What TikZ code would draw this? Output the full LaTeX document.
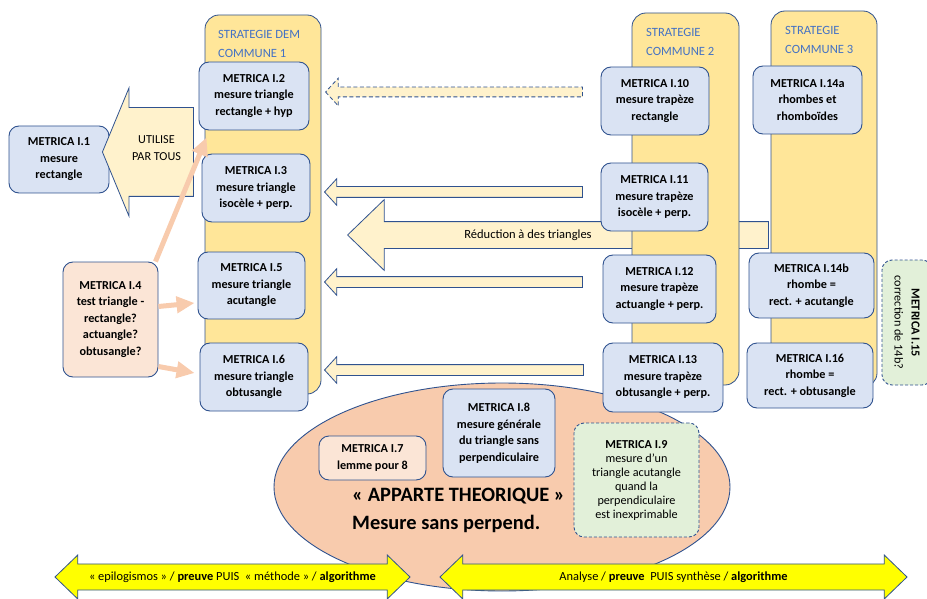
\documentclass[tikz,border=0pt]{standalone}
\usepackage{fontspec}
\setmainfont{Carlito}
\usetikzlibrary{shapes.arrows,shapes.geometric,arrows.meta,positioning}

\definecolor{edgeblue}{RGB}{47,82,143}
\definecolor{titleblue}{RGB}{68,114,196}
\definecolor{colgold}{RGB}{255,230,153}
\definecolor{boxblue}{RGB}{218,227,243}
\definecolor{boxpeach}{RGB}{251,229,214}
\definecolor{ovalpeach}{RGB}{248,203,173}
\definecolor{boxgreen}{RGB}{226,240,217}
\definecolor{arrowcream}{RGB}{255,242,204}
\definecolor{bandyellow}{RGB}{255,255,0}

\begin{document}
\begin{tikzpicture}[x=1pt, y=-1pt,
    strategie/.style={draw=edgeblue, fill=colgold, rounded corners=14pt, line width=0.8pt},
    coltitle/.style={anchor=north west, inner sep=0pt, align=left, text=titleblue, font=\fontsize{12.6}{19}\selectfont},
    metrica/.style={draw=edgeblue, fill=boxblue, rounded corners=10pt, line width=0.9pt, align=center, inner sep=1pt, font=\fontsize{12.2}{16.5}\selectfont\bfseries},
    testbox/.style={metrica, fill=boxpeach},
    openbox/.style={metrica, fill=boxgreen, dash pattern=on 3pt off 2pt, font=\fontsize{12.2}{14}\selectfont},
    wh/.style 2 args={minimum width=#1pt, minimum height=#2pt},
    % length, half shaft, head overhang
    arrowdims/.style n args={3}{minimum height=#1pt, inner ysep=#2pt, single arrow head extend=#3pt},
    retour/.style={single arrow, shape border rotate=180, anchor=tip, draw=edgeblue, fill=arrowcream, line width=0.8pt, inner xsep=0pt, single arrow tip angle=95},
    band/.style={double arrow, draw=edgeblue, fill=bandyellow, line width=0.8pt, inner sep=0pt, minimum width=44pt, double arrow head extend=4pt, double arrow tip angle=88, font=\fontsize{12.4}{14}\selectfont},
    feed/.style={draw=ovalpeach, line width=5pt, -{Triangle[length=18pt, width=16pt]}}
]
\useasboundingbox (0,0) rectangle (927,599);

% big arrow, runs behind commune 2 and 3
\node[retour, arrowdims={421}{13}{22}, single arrow tip angle=88] (reduc) at (347,235) {};
\node[font=\fontsize{12.5}{14}\selectfont] (reductxt) at (528,235) {Réduction à des triangles};

% the three strategies
\node[strategie, wh={116}{379}] (col1) at (263,204.5) {};
\node[strategie, wh={107}{372}] (col2) at (685.5,199) {};
\node[strategie, wh={106}{376}] (col3) at (824,199) {};
\node[coltitle] (t1) at (218,30) {STRATEGIE DEM\\COMMUNE 1};
\node[coltitle] (t2) at (646,28) {STRATEGIE\\COMMUNE 2};
\node[coltitle] (t3) at (785,26) {STRATEGIE\\COMMUNE 3};

% apparte theorique
\node[ellipse, draw=edgeblue, fill=ovalpeach, line width=0.9pt, wh={456}{208}, inner sep=0pt] (oval) at (502,487) {};
\node[anchor=north west, inner sep=0pt, align=left, font=\fontsize{20.4}{27.5}\selectfont\bfseries] (apparte) at (352,488)
    {« APPARTE THEORIQUE »\\Mesure sans perpend.};

\node[band, minimum height=355pt] (leftband) at (232.5,577)
    {« epilogismos » / \textbf{preuve} PUIS\ \ « méthode » / \textbf{algorithme}};
\node[band, minimum height=467pt] (rightband) at (673.5,577)
    {Analyse / \textbf{preuve}\ \ PUIS synthèse / \textbf{algorithme}};

% arrows from commune 2 back to commune 1
\node[retour, arrowdims={257}{4.5}{9}, dash pattern=on 4pt off 2.5pt] (a2) at (325,92) {};
\node[retour, arrowdims={258}{5}{8}] (a3) at (324,192) {};
\node[retour, arrowdims={258}{5}{8}] (a5) at (324,282) {};
\node[retour, arrowdims={259}{5}{8}] (a6) at (324,370) {};

% boxes
\node[metrica, wh={100}{67}] (i1) at (59,159.5) {METRICA I.1\\mesure\\rectangle};
\node[metrica, wh={110}{68}] (i2) at (254,96) {METRICA I.2\\mesure triangle\\rectangle + hyp};
\node[metrica, wh={108}{68}] (i3) at (256,188) {METRICA I.3\\mesure triangle\\isocèle + perp.};
\node[testbox, wh={95}{115}] (i4) at (110.5,319.5) {METRICA I.4\\test triangle -\\rectangle?\\actuangle?\\obtusangle?};
\node[metrica, wh={107}{67}] (i5) at (251.5,285.5) {METRICA I.5\\mesure triangle\\acutangle};
\node[metrica, wh={108}{68}] (i6) at (254,377) {METRICA I.6\\mesure triangle\\obtusangle};
\node[testbox, wh={107}{44}] (i7) at (372.5,458) {METRICA I.7\\lemme pour 8};
\node[metrica, wh={112}{88}] (i8) at (499,433) {METRICA I.8\\mesure générale\\du triangle sans\\perpendiculaire};
\node[openbox, wh={125}{114}] (i9) at (636.5,480) {\textbf{METRICA I.9}\\mesure d’un\\triangle acutangle\\quand la\\perpendiculaire\\est inexprimable};
\node[metrica, wh={108}{68}] (i10) at (655,101) {METRICA I.10\\mesure trapèze\\rectangle};
\node[metrica, wh={107}{68}] (i11) at (654.5,197) {METRICA I.11\\mesure trapèze\\isocèle + perp.};
\node[metrica, wh={113}{68}] (i12) at (659.5,289) {METRICA I.12\\mesure trapèze\\actuangle + perp.};
\node[metrica, wh={120}{69}] (i13) at (663,377.5) {METRICA I.13\\mesure trapèze\\obtusangle + perp.};
\node[metrica, wh={109}{68}] (i14a) at (807.5,100) {METRICA I.14a\\rhombes et\\rhomboïdes};
\node[metrica, wh={125}{65}] (i14b) at (811.5,285.5) {METRICA I.14b\\rhombe =\\rect. + acutangle};
\node[openbox, rotate=-90, wh={125}{50}, font=\fontsize{12.2}{17}\selectfont] (i15) at (907,322.5) {\textbf{METRICA I.15}\\correction de 14b?};
\node[metrica, wh={126}{65}] (i16) at (810,375.5) {METRICA I.16\\rhombe =\\rect. + obtusangle};

% used by all
\node[retour, arrowdims={91}{44}{19.5}, single arrow tip angle=135] (utilise) at (102,152) {};
\node[align=center, font=\fontsize{12.2}{16.5}\selectfont] (utilisetxt) at (156.5,148) {UTILISE\\PAR TOUS};

% test I.4 feeds I.2, I.5, I.6
\draw[feed] ([xshift=-3pt]i4.north east) -- ([xshift=8pt,yshift=-7pt]i2.south west);
\draw[feed] ([yshift=13pt]i4.east) -- ([xshift=-3pt,yshift=-17.5pt]i5.west);
\draw[feed] ([yshift=-47pt]i4.east) -- ([xshift=-5pt,yshift=4pt]i6.west);
\end{tikzpicture}
\end{document}
